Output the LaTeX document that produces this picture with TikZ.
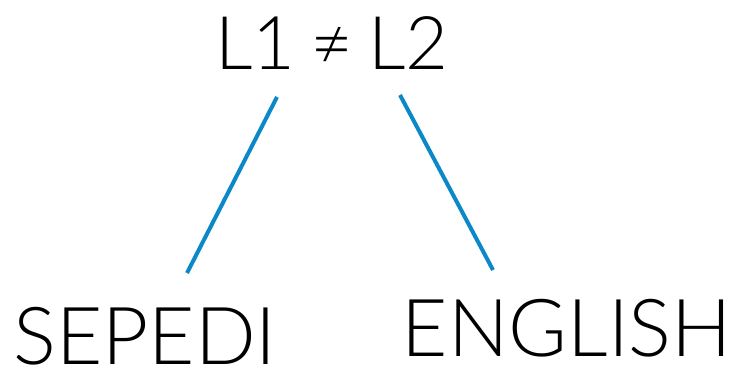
\documentclass[tikz,border=0pt]{standalone}
\usepackage{fontspec}
\setmainfont{Lato Light}
\definecolor{linkblue}{HTML}{0A88C8}
\begin{document}
\begin{tikzpicture}[x=1pt,y=-1pt,
  word/.style={inner sep=0pt,anchor=base,font=\fontsize{80}{80}\selectfont},
  link/.style={draw=linkblue,line width=4pt}]
  \useasboundingbox (0,0) rectangle (735,367);
  % language labels
  \node[word,font=\fontsize{74}{74}\selectfont] (title) at (332,69)
    {L1\hspace{15pt}≠\hspace{15pt}L2};
  \node[word] (sepedi) at (145,364) {SEPEDI};
  \node[word] (english) at (567,356) {ENGLISH};
  % end points of the two branches
  \coordinate (aTop) at (277,97);
  \coordinate (aBot) at (187,273);
  \coordinate (bTop) at (400,95);
  \coordinate (bBot) at (493,270);
  \draw[link] (aTop) -- (aBot);
  \draw[link] (bTop) -- (bBot);
\end{tikzpicture}
\end{document}
